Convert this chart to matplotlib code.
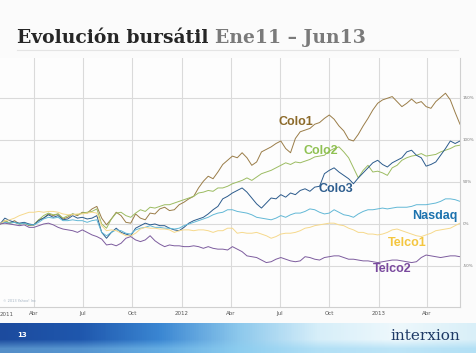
import numpy as np
import pandas as pd
import matplotlib
matplotlib.use("Agg")
import matplotlib.pyplot as plt
import matplotlib.dates as mdates
from matplotlib.lines import Line2D
from matplotlib.colors import LinearSegmentedColormap

### DATA ###
# one point every 9 days, values in % change since start
DATES = pd.date_range("2011-01-28", periods=96, freq="9D")

COLO1 = [0, 4, 1, 4, 0, 1, -2, -1, 5, 7,
         12, 10, 12, 6, 8, 12, 10, 14, 13, 18,
         21, 7, -1, 6, 14, 10, 2, 1, 12, 7,
         5, 13, 12, 18, 20, 16, 17, 23, 26, 30,
         33, 43, 51, 57, 54, 62, 71, 76, 81, 79,
         85, 79, 70, 74, 86, 89, 92, 96, 99, 90,
         85, 102, 110, 112, 114, 119, 121, 126, 130, 125,
         117, 111, 101, 99, 107, 117, 126, 136, 144, 148,
         150, 152, 146, 140, 144, 149, 144, 146, 140, 138,
         146, 151, 156, 148, 133, 119]

COLO2 = [0, 4, 1, 2, 0, 1, -1, -1, 5, 10,
         13, 11, 12, 7, 10, 12, 11, 13, 14, 15,
         18, 0, -5, 6, 13, 14, 10, 8, 13, 17,
         15, 20, 19, 21, 23, 23, 25, 27, 29, 31,
         33, 37, 38, 40, 39, 43, 43, 45, 48, 50,
         52, 55, 52, 56, 60, 62, 64, 67, 70, 73,
         71, 74, 73, 75, 77, 80, 81, 82, 87, 90,
         92, 86, 79, 67, 55, 64, 70, 62, 63, 61,
         58, 67, 70, 76, 79, 81, 82, 84, 81, 82,
         83, 86, 88, 90, 93, 94]

COLO3 = [0, 7, 4, 2, 1, 2, 0, -1, 4, 7,
         11, 8, 10, 5, 6, 10, 7, 8, 6, 7,
         10, -10, -17, -10, -5, -10, -12, -14, -5, -2,
         1, -1, 0, -2, -2, -5, -7, -8, -4, 1,
         4, 6, 8, 12, 17, 21, 30, 33, 37, 40,
         43, 38, 31, 24, 19, 25, 31, 30, 35, 32,
         37, 35, 40, 42, 39, 44, 45, 60, 64, 67,
         62, 58, 54, 48, 55, 61, 67, 73, 76, 71,
         68, 73, 76, 79, 86, 88, 82, 79, 69, 71,
         74, 82, 90, 99, 96, 99]

NASDAQ = [0, 2, 1, 2, 0, 1, -1, -1, 2, 6,
          8, 7, 8, 4, 4, 5, 4, 4, 2, 4,
          5, -10, -14, -10, -7, -8, -11, -12, -7, -5,
          -4, -2, -4, -4, -5, -5, -6, -5, -2, 0,
          2, 4, 6, 8, 11, 13, 14, 17, 17, 15,
          14, 13, 11, 8, 7, 6, 5, 7, 10, 8,
          11, 13, 13, 15, 18, 17, 14, 12, 13, 17,
          14, 11, 10, 8, 12, 15, 17, 17, 18, 19,
          18, 19, 20, 20, 20, 21, 23, 23, 23, 24,
          25, 27, 30, 30, 29, 27]

TELCO1 = [0, 4, 5, 7, 10, 12, 14, 14, 15, 14,
          15, 15, 14, 12, 11, 11, 12, 12, 13, 14,
          13, -2, -8, -7, -8, -11, -14, -14, -11, -6,
          -4, -5, -5, -6, -6, -7, -10, -8, -7, -7,
          -8, -7, -7, -8, -10, -8, -8, -5, -5, -11,
          -10, -11, -11, -10, -12, -14, -17, -15, -12, -11,
          -11, -10, -8, -5, -4, -2, -1, 0, 1, 1,
          -1, -2, -5, -7, -10, -10, -12, -12, -13, -12,
          -10, -7, -6, -8, -10, -12, -14, -15, -13, -11,
          -8, -7, -6, -5, -2, 1]

TELCO2 = [0, 1, 0, -1, -2, -1, -4, -4, -2, 0,
          1, -1, -4, -6, -7, -8, -10, -7, -10, -13,
          -15, -18, -25, -24, -26, -23, -17, -15, -19, -21,
          -19, -14, -20, -24, -27, -25, -26, -26, -27, -27,
          -26, -27, -29, -27, -29, -30, -30, -31, -27, -30,
          -33, -38, -39, -40, -43, -46, -45, -42, -40, -42,
          -44, -45, -44, -39, -40, -42, -43, -40, -39, -38,
          -38, -40, -42, -42, -43, -44, -44, -45, -46, -45,
          -44, -43, -43, -44, -45, -46, -45, -40, -37, -38,
          -39, -40, -39, -38, -38, -39]

NAMES = ["Colo1", "Colo2", "Colo3", "Nasdaq", "Telco1", "Telco2"]
SERIES = [COLO1, COLO2, COLO3, NASDAQ, TELCO1, TELCO2]

TICK_DATES = ["2011-04-01", "2011-07-01", "2011-10-01", "2012-01-01", "2012-04-01",
              "2012-07-01", "2012-10-01", "2013-01-01", "2013-04-01"]
TICK_LABELS = ["Abr", "Jul", "Oct", "2012", "Abr", "Jul", "Oct", "2013", "Abr"]
Y_TICKS = [150, 100, 50, 0, -50]
Y_LABELS = ["150%", "100%", "50%", "0%", "-50%"]

### STYLE ###
LINE_COLORS = ["#9a7d48", "#9cbc62", "#2c5b8c", "#62b8d6", "#f6d98c", "#7d5c9e"]
TEXT_COLORS = ["#8c6a2a", "#8fc152", "#2d5d8e", "#1c72ae", "#f4c63f", "#7a4a9e"]
LABEL_POS = [(296, 122), (321, 151), (336, 189), (435, 216), (407, 243), (392, 269)]

W, H = 477, 353
fig = plt.figure(figsize=(W / 100, H / 100), dpi=100, facecolor="#fbfbfb")

# plot area in pixels: x 0..460, y 58..307
ax = fig.add_axes([0, 1 - 307 / H, 460 / W, (307 - 58) / H])
ax.set_facecolor("#fdfdfd")

for vals, col in zip(SERIES, LINE_COLORS):
    ax.plot(DATES, vals, color=col, lw=0.7)

ax.set_xlim(DATES[0], DATES[0] + pd.Timedelta(days=855))
ax.set_ylim(-99, 198)

ax.set_xticks(pd.to_datetime(TICK_DATES))
ax.set_xticklabels(TICK_LABELS)
ax.set_yticks(Y_TICKS)
ax.set_yticklabels([])
ax.tick_params(axis="both", length=0)
ax.tick_params(axis="x", labelsize=4, labelcolor="#555555", pad=3)
ax.grid(True, color="#dadada", lw=0.8)
for side in ["top", "left"]:
    ax.spines[side].set_visible(False)
for side in ["right", "bottom"]:
    ax.spines[side].set_color("#d0d0d0")
    ax.spines[side].set_linewidth(0.8)

ax.text(7 / 460, -0.02, "2011", transform=ax.transAxes, fontsize=4, color="#555555",
        ha="center", va="top")
ax.text(3 / 460, 0.015, "\u00a9 2013 Yahoo! Inc", transform=ax.transAxes, fontsize=2.5,
        color="#a0b0c0", ha="left", va="bottom")

for yv, lab in zip(Y_TICKS, Y_LABELS):
    ax.text(1.005, yv, lab, transform=ax.get_yaxis_transform(), fontsize=3,
            color="#777777", ha="left", va="center")

for name, col, (px, py) in zip(NAMES, TEXT_COLORS, LABEL_POS):
    ax.text(px / 460, (307 - py) / 249, name, transform=ax.transAxes, color=col,
            fontsize=9, fontweight="bold", family="Liberation Sans", ha="center", va="center")

# title in two colours
t1 = fig.text(17 / W, 1 - 43 / H, "Evoluci\u00f3n burs\u00e1til ", fontsize=13.5, fontweight="bold",
              family="DejaVu Serif", color="#262626", va="baseline")
fig.canvas.draw()
bb = t1.get_window_extent()
fig.text(bb.x1 / fig.bbox.width, 1 - 43 / H, "Ene11 \u2013 Jun13", fontsize=13.5, fontweight="bold",
         family="DejaVu Serif", color="#7a7a7a", va="baseline")
fig.add_artist(Line2D([17 / W, 458 / W], [1 - 50 / H] * 2, color="#e4e4e4", lw=0.8))

# blue footer band
band = fig.add_axes([0, 0, 1, 30 / H])
cmap = LinearSegmentedColormap.from_list(
    "band", ["#1c4b9e", "#1f57ad", "#3a86d2", "#8cc8ec", "#d6eef9", "#eef8fc", "#d9eff8"])
xs = np.linspace(0, 1, W)
rows = np.linspace(0, 1, 30)[:, None]
img = cmap(xs)[None, :, :3] * np.ones((30, 1, 1))
# lighter lower strip
light = np.clip((rows - 0.55) * 1.6, 0, 0.5)[:, :, None]
img = img * (1 - light) + np.array([0.55, 0.82, 0.95]) * light
band.imshow(img, aspect="auto", extent=[0, 1, 0, 1], origin="upper")
band.set_xlim(0, 1)
band.set_ylim(0, 1)
band.axis("off")
band.text(17 / W, 0.6, "13", color="white", fontsize=5, fontweight="bold", va="center")
band.text(460 / W, 0.58, "interxion", color="#1e3a66", fontsize=11, family="DejaVu Serif",
          ha="right", va="center")

fig.savefig("out.png", dpi=100, facecolor=fig.get_facecolor())
